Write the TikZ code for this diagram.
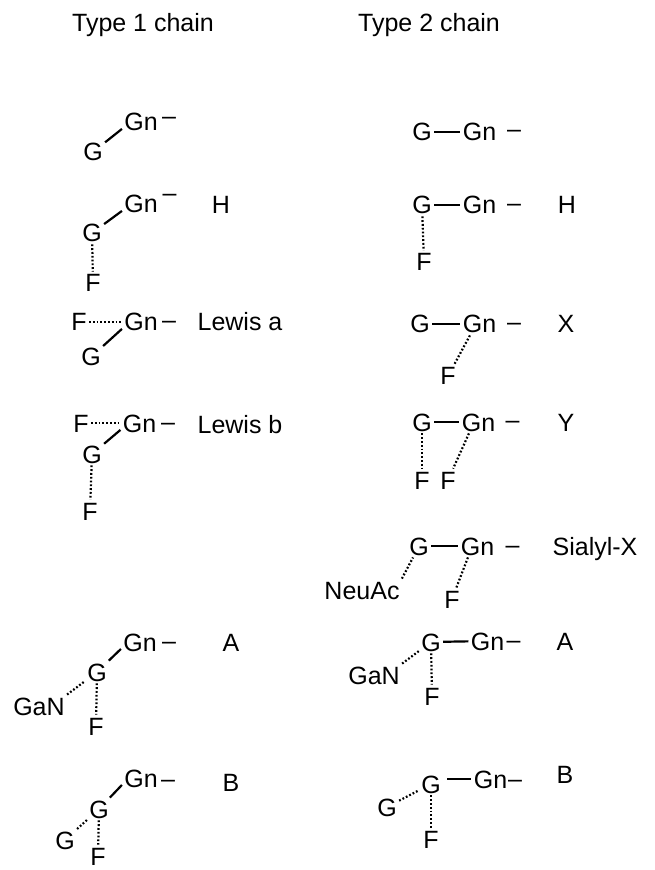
\documentclass[tikz,border=0pt]{standalone}
\usepackage{fontspec}
\setmainfont{Liberation Sans}

\begin{document}
\begin{tikzpicture}[x=0.5pt,y=-0.5pt,
  sug/.style={font=\fontsize{12.5}{14}\selectfont,inner sep=1pt,text height=9pt,text depth=0pt},
  bond/.style={line width=1.1pt},
  link/.style={line width=1.1pt,dash pattern=on 0.9pt off 1pt}]
\useasboundingbox (0,0) rectangle (654,870);
\node[sug] (t1) at (143,23) {Type 1 chain};
\node[sug] (t2) at (429,23) {Type 2 chain};
% type 1
\node[sug] (g1) at (93,152) {G};
\node[sug] (gn1) at (141,122) {Gn};
\node[sug] (d1) at (169,116) {–};
\draw[bond] (g1) -- (gn1.200);
\node[sug] (g2) at (92,233) {G};
\node[sug] (gn2) at (141,204) {Gn};
\node[sug] (d2) at (169.5,193) {–};
\node[sug] (f2) at (93,283) {F};
\node[sug] (h2) at (221,205) {H};
\draw[bond] (g2) -- (gn2.200);
\draw[link] (g2) -- (f2);
\node[sug] (f3) at (79,322) {F};
\node[sug] (gn3) at (141,322) {Gn};
\node[sug] (d3) at (169,320) {–};
\node[sug] (g3) at (91,357) {G};
\node[sug] (lea) at (240,322) {Lewis a};
\draw[link] (f3) -- (gn3);
\draw[bond] (g3) -- (gn3.200);
\node[sug] (f4) at (81,423) {F};
\node[sug] (gn4) at (139.5,423) {Gn};
\node[sug] (d4) at (168,421) {–};
\node[sug] (g4) at (92,454) {G};
\node[sug] (f4b) at (90,511) {F};
\node[sug] (leb) at (240,424) {Lewis b};
\draw[link] (f4) -- (gn4);
\draw[bond] (g4) -- (gn4.200);
\draw[link] (g4) -- (f4b);
\node[sug] (gn5) at (140,642) {Gn};
\node[sug] (d5) at (169,640) {–};
\node[sug] (g5) at (97,672) {G};
\node[sug] (gan5) at (39,706) {GaN};
\node[sug] (f5) at (96,726) {F};
\node[sug] (a5) at (231,642) {A};
\draw[bond] (g5) -- (gn5.200);
\draw[link] (gan5.north east) -- (g5);
\draw[link] (g5) -- (f5);
\node[sug] (gn6) at (141,778) {Gn};
\node[sug] (d6) at (168,778) {–};
\node[sug] (g6) at (99,809) {G};
\node[sug] (g6b) at (65,840) {G};
\node[sug] (f6) at (98,856) {F};
\node[sug] (b6) at (231,782) {B};
\draw[bond] (g6) -- (gn6.200);
\draw[link] (g6b) -- (g6);
\draw[link] (g6) -- (f6);
% type 2
\node[sug] (rg1) at (422,132) {G};
\node[sug] (rgn1) at (479.5,132) {Gn};
\node[sug] (rd1) at (514,129) {–};
\draw[bond] (rg1) -- (rgn1);
\node[sug] (rg2) at (422,205) {G};
\node[sug] (rgn2) at (479.5,205) {Gn};
\node[sug] (rd2) at (514,203) {–};
\node[sug] (rf2) at (424,262) {F};
\node[sug] (rh2) at (567,205) {H};
\draw[bond] (rg2) -- (rgn2);
\draw[link] (rg2) -- (rf2);
\node[sug] (rg3) at (420,324) {G};
\node[sug] (rgn3) at (479.5,324) {Gn};
\node[sug] (rd3) at (514,322) {–};
\node[sug] (rf3) at (448,376) {F};
\node[sug] (rx3) at (566,324) {X};
\draw[bond] (rg3) -- (rgn3);
\draw[link] (rgn3.230) -- (rf3);
\node[sug] (rg4) at (422,422) {G};
\node[sug] (rgn4) at (478.5,422) {Gn};
\node[sug] (rd4) at (512.5,420) {–};
\node[sug] (rf4a) at (422,480) {F};
\node[sug] (rf4b) at (448,480) {F};
\node[sug] (ry4) at (566,422) {Y};
\draw[bond] (rg4) -- (rgn4);
\draw[link] (rg4) -- (rf4a);
\draw[link] (rgn4.230) -- (rf4b);
\node[sug] (rg5) at (419,546) {G};
\node[sug] (rgn5) at (477.5,546) {Gn};
\node[sug] (rd5) at (512.5,544) {–};
\node[sug] (neu5) at (362,590) {NeuAc};
\node[sug] (rf5) at (452,599) {F};
\node[sug] (sx5) at (595,546) {Sialyl-X};
\draw[bond] (rg5) -- (rgn5);
\draw[link] (neu5.north east) -- (rg5);
\draw[link] (rgn5.230) -- (rf5);
\node[sug] (rg6) at (431,642) {G};
\node[sug] (rgn6) at (487.5,641) {Gn};
\node[sug] (rd6) at (513.5,639) {–};
\node[sug] (gan6) at (374,675) {GaN};
\node[sug] (rf6) at (432,696) {F};
\node[sug] (ra6) at (565,641) {A};
\draw[bond] (rg6) -- (rgn6);
\draw[link] (gan6.north east) -- (rg6);
\draw[link] (rg6) -- (rf6);
\node[sug] (rg7) at (431,784) {G};
\node[sug] (rgn7) at (490.5,779) {Gn};
\node[sug] (rd7) at (515,778) {–};
\node[sug] (rg7b) at (387,807) {G};
\node[sug] (rf7) at (431,839) {F};
\node[sug] (rb7) at (565,774) {B};
\draw[bond,shorten <=2pt] (rg7.east |- rgn7.west) -- (rgn7.west);
\draw[link] (rg7b) -- (rg7);
\draw[link] (rg7) -- (rf7);
\end{tikzpicture}
\end{document}
